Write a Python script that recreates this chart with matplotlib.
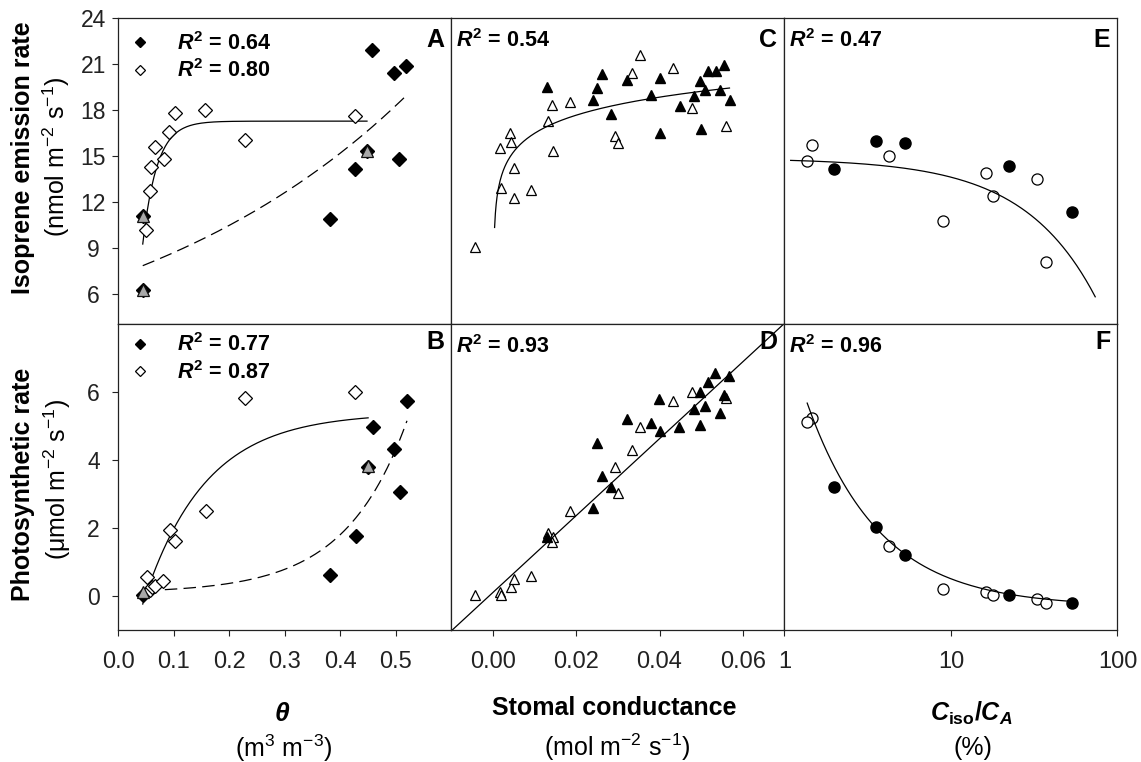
"""Isoprene emission and photosynthesis vs soil water, stomatal conductance
and Ciso/CA - six-panel figure (A-F)."""
import matplotlib

matplotlib.use("Agg")
import matplotlib.pyplot as plt
import numpy as np
from matplotlib.lines import Line2D
from matplotlib.ticker import NullLocator

plt.rcParams["font.family"] = ["Liberation Sans", "DejaVu Sans"]
plt.rcParams["mathtext.fontset"] = "custom"
plt.rcParams["mathtext.rm"] = "Liberation Sans"
plt.rcParams["mathtext.it"] = "Liberation Sans:italic:bold"
plt.rcParams["mathtext.bf"] = "Liberation Sans:bold"

# ---- panel A / B : soil water content (theta) ----
theta_filled_iso = [0.4575, 0.496, 0.519, 0.4257, 0.505, 0.381, 0.044, 0.044, 0.448]
iso_filled = [21.95, 20.42, 20.88, 14.12, 14.82, 10.89, 11.1, 6.24, 15.3]
theta_open_iso = [0.0498, 0.057, 0.058, 0.066, 0.0827, 0.0917, 0.102, 0.156, 0.228, 0.4257]
iso_open = [10.17, 12.72, 14.27, 15.58, 14.82, 16.56, 17.82, 18.04, 16.04, 17.63]
theta_gray_iso = [0.044, 0.044, 0.448]
iso_gray = [11.1, 6.24, 15.35]

theta_filled_ps = [0.52, 0.459, 0.497, 0.507, 0.428, 0.382, 0.044, 0.449]
ps_filled = [5.76, 4.97, 4.34, 3.08, 1.79, 0.62, 0.05, 3.8]
theta_open_ps = [0.051, 0.057, 0.060, 0.066, 0.081, 0.093, 0.102, 0.158, 0.228, 0.426]
ps_open = [0.57, 0.2, 0.27, 0.32, 0.45, 1.94, 1.64, 2.52, 5.85, 6.02]
theta_gray_ps = [0.044, 0.449]
ps_gray = [0.13, 3.85]

r2_A = ["0.64", "0.80"]
r2_B = ["0.77", "0.87"]

# ---- panel C / D : stomatal conductance ----
gs_open_iso = [-0.0044, 0.0016, 0.0042, 0.0044, 0.005, 0.002, 0.005, 0.0092, 0.0133,
               0.0142, 0.0144, 0.0184, 0.0292, 0.030, 0.0334, 0.0354, 0.0432, 0.0478, 0.056]
iso_open_gs = [9.03, 15.51, 16.5, 15.93, 14.23, 12.92, 12.24, 12.79, 17.28,
               18.31, 15.32, 18.52, 16.28, 15.84, 20.42, 21.62, 20.75, 18.13, 16.93]
gs_filled_iso = [0.0130, 0.0262, 0.0250, 0.024, 0.0284, 0.0323, 0.040, 0.038, 0.0402, 0.0448,
                 0.0482, 0.0496, 0.051, 0.050, 0.0516, 0.0536, 0.0556, 0.0546, 0.057]
iso_filled_gs = [19.5, 20.34, 19.42, 18.68, 17.72, 20.0, 20.09, 18.98, 16.5, 18.24,
                 18.92, 19.88, 19.29, 16.78, 20.53, 20.53, 20.97, 19.33, 18.68]

gs_open_ps = [-0.0044, 0.0016, 0.002, 0.0044, 0.005, 0.0092, 0.0133, 0.0144, 0.0142,
              0.0184, 0.0292, 0.030, 0.0334, 0.0354, 0.0432, 0.0478, 0.056]
ps_open_gs = [0.03, 0.13, 0.03, 0.29, 0.5, 0.59, 1.87, 1.74, 1.6,
              2.5, 3.82, 3.05, 4.32, 4.97, 5.74, 6.02, 5.85]
gs_filled_ps = [0.0130, 0.025, 0.0262, 0.0284, 0.024, 0.0322, 0.038, 0.040, 0.0398, 0.0446,
                0.0482, 0.0498, 0.0508, 0.0496, 0.0516, 0.0534, 0.0568, 0.0556, 0.0546]
ps_filled_gs = [1.74, 4.52, 3.53, 3.21, 2.59, 5.22, 5.1, 4.86, 5.81, 4.99,
                5.52, 5.04, 5.59, 6.02, 6.31, 6.57, 6.49, 5.93, 5.38]

r2_C = "0.54"
r2_D = "0.93"

# ---- panel E / F : Ciso / CA (%) ----
ratio_open = [1.456, 1.372, 4.23, 8.93, 16.3, 17.87, 32.8, 37.3]
iso_open_ratio = [15.69, 14.66, 14.99, 10.78, 13.88, 12.42, 13.51, 8.10]
ps_open_ratio = [5.25, 5.12, 1.48, 0.23, 0.13, 0.03, -0.07, -0.2]
ratio_filled = [1.98, 3.53, 5.33, 22.4, 53.4]
iso_filled_ratio = [14.12, 15.97, 15.84, 14.38, 11.37]
ps_filled_ratio = [3.23, 2.04, 1.23, 0.05, -0.2]

r2_E = "0.47"
r2_F = "0.96"

# ---- fitted regression curves (parameters, x-range) ----
fit_A_open = dict(top=17.28, drop=8.03, k=39.0, x0=0.044, xr=(0.044, 0.448))
fit_A_filled = dict(a=7.22, b=1.86, xr=(0.044, 0.519))
fit_B_open = dict(a=5.4, b=8.96, x0=0.0485, xr=(0.044, 0.45))
fit_B_filled = dict(y0=0.1, a=0.047, b=9.0, xr=(0.05, 0.52))
fit_C = dict(a=24.30, b=1.692, x0=0.00012, xr=(0.00038, 0.0568))
fit_D = dict(icpt=0.12, slope=113.0, xr=(-0.01, 0.07))
fit_E = dict(icpt=14.85, slope=-0.1231, xr=(1.09, 73.5))
fit_F = dict(y0=-0.3, a=8.2, xr=(1.37, 53.8))

GRAY = "#a8a8a8"
DASH = (10, 5)


def r2_text(val):
    return r"$\mathit{R}^{\mathbf{2}}$ = " + val


def style_axis(ax, row, col):
    for sp in ax.spines.values():
        sp.set_linewidth(0.9)
        sp.set_color("#222222")
    ax.tick_params(direction="out", length=4, width=0.8, labelsize=17, colors="#222222")
    ax.tick_params(axis="x", pad=11)
    ax.tick_params(axis="y", pad=14)
    if row == 0:
        ax.tick_params(axis="x", bottom=False, labelbottom=False)
    if col > 0:
        ax.tick_params(axis="y", left=False, labelleft=False)


def panel_letter(ax, letter, ybase):
    ax.text(0.978, ybase, letter, transform=ax.transAxes, ha="right", va="baseline",
            fontsize=18, fontweight="bold")


def panel_r2(ax, val, ybase):
    ax.text(0.015, ybase, r2_text(val), transform=ax.transAxes, ha="left", va="baseline",
            fontsize=15.5, fontweight="bold")


def diamond_legend(ax, vals, ytop):
    handles = [
        Line2D([], [], ls="none", marker="D", ms=5, mfc="black", mec="black"),
        Line2D([], [], ls="none", marker="D", ms=5, mfc="white", mec="black", mew=0.9),
    ]
    ax.legend(handles, [r2_text(v) for v in vals], loc="upper left",
              bbox_to_anchor=(0.04, ytop), frameon=False, borderaxespad=0, borderpad=0,
              handlelength=0.8, handletextpad=1.3, labelspacing=0.2,
              prop={"weight": "bold", "size": 15.5})


def plot_theta(ax, xf, yf, xo, yo, xg, yg):
    ax.plot(xf, yf, ls="none", marker="D", ms=6.7, mfc="black", mec="black", zorder=3)
    ax.plot(xo, yo, ls="none", marker="D", ms=6.7, mfc="white", mec="black", mew=0.9, zorder=3)
    ax.plot(xg, yg, ls="none", marker="^", ms=9, mfc=GRAY, mec="#111111", mew=0.9, zorder=4)


fig, axes = plt.subplots(2, 3, figsize=(11.41, 7.62), dpi=100)
fig.subplots_adjust(left=0.1037, right=0.9794, top=0.976, bottom=0.1726, wspace=0, hspace=0)

# A
ax = axes[0, 0]
plot_theta(ax, theta_filled_iso, iso_filled, theta_open_iso, iso_open, theta_gray_iso, iso_gray)
p = fit_A_open
x = np.linspace(*p["xr"], 200)
ax.plot(x, p["top"] - p["drop"] * np.exp(-p["k"] * (x - p["x0"])), color="black", lw=0.9)
p = fit_A_filled
x = np.linspace(*p["xr"], 200)
ax.plot(x, p["a"] * np.exp(p["b"] * x), color="black", lw=0.9, dashes=DASH)
diamond_legend(ax, r2_A, 0.955)
panel_letter(ax, "A", 0.905)

# B
ax = axes[1, 0]
plot_theta(ax, theta_filled_ps, ps_filled, theta_open_ps, ps_open, theta_gray_ps, ps_gray)
p = fit_B_open
x = np.linspace(*p["xr"], 200)
ax.plot(x, p["a"] * (1 - np.exp(-p["b"] * (x - p["x0"]))), color="black", lw=0.9)
p = fit_B_filled
x = np.linspace(*p["xr"], 200)
ax.plot(x, p["y0"] + p["a"] * np.exp(p["b"] * x), color="black", lw=0.9, dashes=DASH)
diamond_legend(ax, r2_B, 0.97)
panel_letter(ax, "B", 0.918)

# C
ax = axes[0, 1]
ax.plot(gs_open_iso, iso_open_gs, ls="none", marker="^", ms=7.5, mfc="white", mec="black", mew=0.9)
ax.plot(gs_filled_iso, iso_filled_gs, ls="none", marker="^", ms=7.5, mfc="black", mec="black")
p = fit_C
x = np.linspace(*p["xr"], 300)
ax.plot(x, p["a"] + p["b"] * np.log(x - p["x0"]), color="black", lw=0.9)
panel_r2(ax, r2_C, 0.907)
panel_letter(ax, "C", 0.905)

# D
ax = axes[1, 1]
ax.plot(gs_open_ps, ps_open_gs, ls="none", marker="^", ms=7.5, mfc="white", mec="black", mew=0.9)
ax.plot(gs_filled_ps, ps_filled_gs, ls="none", marker="^", ms=7.5, mfc="black", mec="black")
p = fit_D
x = np.linspace(*p["xr"], 50)
ax.plot(x, p["icpt"] + p["slope"] * x, color="black", lw=0.9)
panel_r2(ax, r2_D, 0.905)
panel_letter(ax, "D", 0.918)

# E
ax = axes[0, 2]
ax.set_xscale("log")
ax.plot(ratio_open, iso_open_ratio, ls="none", marker="o", ms=8, mfc="white", mec="black", mew=0.9)
ax.plot(ratio_filled, iso_filled_ratio, ls="none", marker="o", ms=8, mfc="black", mec="black")
p = fit_E
x = np.geomspace(*p["xr"], 200)
ax.plot(x, p["icpt"] + p["slope"] * x, color="black", lw=0.9)
panel_r2(ax, r2_E, 0.907)
panel_letter(ax, "E", 0.905)

# F
ax = axes[1, 2]
ax.set_xscale("log")
ax.plot(ratio_open, ps_open_ratio, ls="none", marker="o", ms=8, mfc="white", mec="black", mew=0.9)
ax.plot(ratio_filled, ps_filled_ratio, ls="none", marker="o", ms=8, mfc="black", mec="black")
p = fit_F
x = np.geomspace(*p["xr"], 200)
ax.plot(x, p["y0"] + p["a"] / x, color="black", lw=0.9)
panel_r2(ax, r2_F, 0.907)
panel_letter(ax, "F", 0.918)

# axis limits / ticks
for row in range(2):
    axes[row, 0].set_xlim(0, 0.6)
    axes[row, 0].set_xticks([0.0, 0.1, 0.2, 0.3, 0.4, 0.5])
    axes[row, 0].set_xticklabels(["0.0", "0.1", "0.2", "0.3", "0.4", "0.5"])
    axes[row, 1].set_xlim(-0.01, 0.07)
    axes[row, 1].set_xticks([0.0, 0.02, 0.04, 0.06])
    axes[row, 1].set_xticklabels(["0.00", "0.02", "0.04", "0.06"])
    axes[row, 2].set_xlim(1, 100)
    axes[row, 2].set_xticks([1, 10, 100])
    axes[row, 2].set_xticklabels(["1", "10", "100"])
    axes[row, 2].xaxis.set_minor_locator(NullLocator())
    for col in range(3):
        style_axis(axes[row, col], row, col)
    for col in range(3):
        axes[0, col].set_ylim(4, 24)
        axes[1, col].set_ylim(-1, 8)

axes[0, 0].set_yticks([6, 9, 12, 15, 18, 21, 24])
axes[1, 0].set_yticks([0, 2, 4, 6])
for a in (axes[0, 0], axes[1, 0]):
    plt.setp(a.get_yticklabels(), ha="center", fontsize=16.5)

W, H = 1141.0, 762.0


def ftext(xpx, ypx, s, **kw):
    fig.text(xpx / W, 1 - ypx / H, s, ha="center", va="center", **kw)


# y-axis titles
ftext(23, 158, "Isoprene emission rate", rotation=90, fontsize=18, fontweight="bold")
ftext(56, 157, r"(nmol m$^{-2}$ s$^{-1}$)", rotation=90, fontsize=18)
ftext(23, 484, "Photosynthetic rate", rotation=90, fontsize=18, fontweight="bold")
ftext(57, 480, r"(μmol m$^{-2}$ s$^{-1}$)", rotation=90, fontsize=18)

# x-axis titles
ftext(282, 714, r"$\mathit{\theta}$", fontsize=19)
ftext(284, 748, r"(m$^{3}$ m$^{-3}$)", fontsize=18)
ftext(614, 708, "Stomal conductance", fontsize=18, fontweight="bold")
ftext(617, 747, r"(mol m$^{-2}$ s$^{-1}$)", fontsize=18)
ftext(971, 713, r"$\mathit{C}_{\mathbf{iso}}\mathbf{/}\mathit{C}_{\mathit{A}}$", fontsize=18)
ftext(973, 748, "(%)", fontsize=18)

fig.savefig("out.png", dpi=100)
